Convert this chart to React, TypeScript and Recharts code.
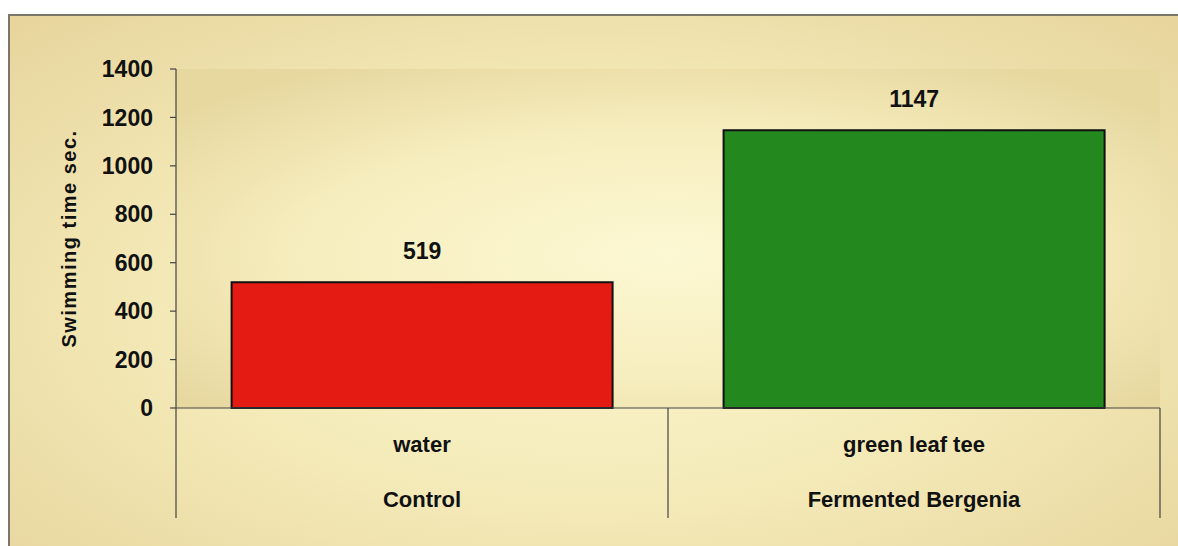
import { BarChart, Bar, XAxis, YAxis, CartesianGrid, LabelList, Cell } from "recharts";

const treatments = ["water", "green leaf tee"];
const groups = ["Control", "Fermented Bergenia"];
const swimTimes = [519, 1147];
const barColors = ["#e31b12", "#23891f"];
const yTicks = [0, 200, 400, 600, 800, 1000, 1200, 1400];

const data = treatments.map((t, i) => ({
  name: t,
  group: groups[i],
  time: swimTimes[i],
}));

const font = "'Liberation Sans', Arial, sans-serif";

function CategoryTick(props: any) {
  const { x, y, payload, index } = props;
  const half = payload && payload.offset ? payload.offset : 0;
  const last = index === treatments.length - 1;
  return (
    <g>
      <line x1={x - half} y1={y} x2={x - half} y2={y + 110} stroke="#444" strokeWidth={1.2} />
      {last && (
        <line x1={x + half} y1={y} x2={x + half} y2={y + 110} stroke="#444" strokeWidth={1.2} />
      )}
      <text x={x} y={y + 44} textAnchor="middle" fontFamily={font} fontWeight={700} fontSize={22} fill="#111">
        {payload.value}
      </text>
      <text x={x} y={y + 99} textAnchor="middle" fontFamily={font} fontWeight={700} fontSize={22} fill="#111">
        {groups[index]}
      </text>
    </g>
  );
}

function YLabel(props: any) {
  const { viewBox } = props;
  const cx = 61;
  const cy = viewBox.y + viewBox.height / 2;
  return (
    <text
      x={cx}
      y={cy}
      transform={`rotate(-90, ${cx}, ${cy})`}
      textAnchor="middle"
      dominantBaseline="central"
      fontFamily={font}
      fontWeight={700}
      fontSize={20}
      letterSpacing={1.5}
      fill="#111"
    >
      Swimming time sec.
    </text>
  );
}

export default function App() {
  return (
    <div style={{ position: "relative", width: 1178, height: 546, background: "#fff" }}>
      <style>{`body{margin:0}`}</style>
      <svg width={0} height={0} style={{ position: "absolute" }}>
        <defs>
          <radialGradient id="plotBg" cx="50%" cy="55%" r="65%">
            <stop offset="0%" stopColor="#fcf8d3" />
            <stop offset="55%" stopColor="#f7eebf" />
            <stop offset="100%" stopColor="#e7d8a0" />
          </radialGradient>
        </defs>
      </svg>
      <div
        style={{
          position: "absolute",
          left: 8,
          top: 14,
          width: 1170,
          height: 532,
          boxSizing: "border-box",
          borderTop: "2px solid #7a7668",
          borderLeft: "2px solid #7a7668",
          background:
            "radial-gradient(ellipse 70% 75% at 50% 55%, #fbf6cd 0%, #f4eab8 50%, #e7d59d 100%)",
        }}
      >
        <div style={{ position: "absolute", left: -2, top: -2 }}>
          <BarChart
            width={1170}
            height={532}
            data={data}
            margin={{ top: 55, right: 18, bottom: 15, left: 0 }}
            barCategoryGap="11.3%"
          >
            <CartesianGrid horizontal={false} vertical={false} fill="url(#plotBg)" stroke="none" />
            <XAxis
              dataKey="name"
              height={123}
              tickLine={false}
              tickSize={0}
              tickMargin={0}
              axisLine={{ stroke: "#444", strokeWidth: 1.2 }}
              tick={<CategoryTick />}
              interval={0}
            />
            <YAxis
              width={168}
              domain={[0, 1400]}
              ticks={yTicks}
              interval={0}
              tickSize={6}
              tickMargin={17}
              axisLine={{ stroke: "#444", strokeWidth: 1.2 }}
              tickLine={{ stroke: "#444", strokeWidth: 1.2 }}
              tick={{ fill: "#111", fontSize: 23, fontWeight: 700, fontFamily: font }}
              label={<YLabel />}
            />
            <Bar dataKey="time" stroke="#111" strokeWidth={2} isAnimationActive={false}>
              {data.map((d, i) => (
                <Cell key={d.name} fill={barColors[i]} />
              ))}
              <LabelList
                dataKey="time"
                position="top"
                offset={23}
                fill="#111"
                fontSize={23}
                fontWeight={700}
                fontFamily={font}
              />
            </Bar>
          </BarChart>
        </div>
      </div>
    </div>
  );
}
